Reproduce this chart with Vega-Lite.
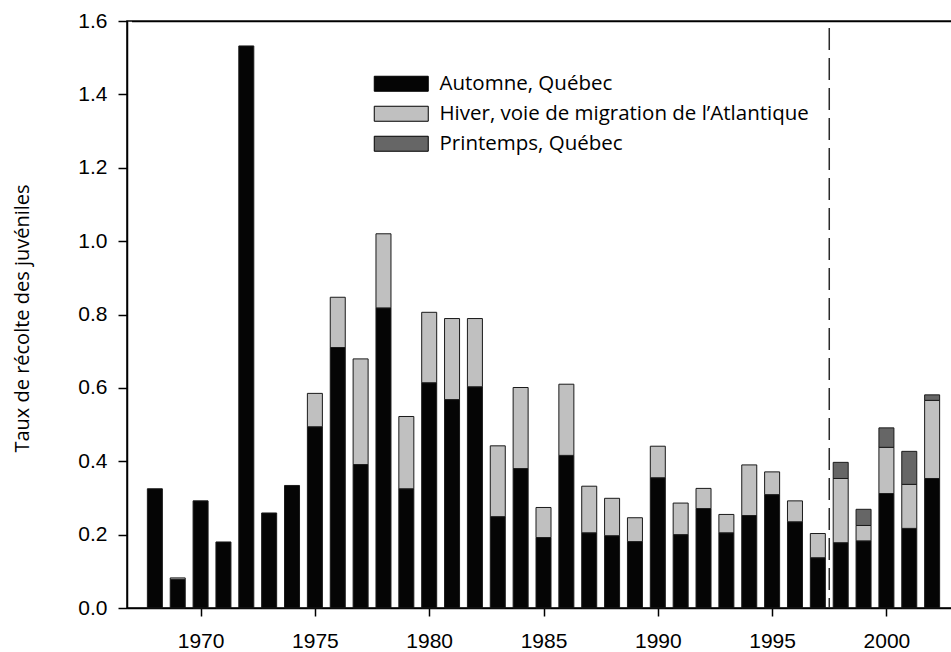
{
  "$schema": "https://vega.github.io/schema/vega-lite/v6.json",
  "autosize": {"type": "none"},
  "padding": {"left": 127, "top": 21, "right": 0, "bottom": 44},
  "width": 833,
  "height": 587,
  "background": "white",
  "config": {
    "view": {"stroke": "#000", "strokeWidth": 1.5},
    "axis": {"grid": false, "domainColor": "#000", "domainWidth": 1.5, "tickColor": "#000", "tickWidth": 1.5, "labelColor": "#000", "labelFont": "Liberation Sans", "labelFontSize": 21, "titleColor": "#000"}
  },
  "datasets": {
    "harvest": [
      {"year": 1968, "season": "Automne, Québec", "value": 0.325},
      {"year": 1969, "season": "Automne, Québec", "value": 0.078},
      {"year": 1969, "season": "Hiver, voie de migration de l’Atlantique", "value": 0.004},
      {"year": 1970, "season": "Automne, Québec", "value": 0.292},
      {"year": 1971, "season": "Automne, Québec", "value": 0.180},
      {"year": 1972, "season": "Automne, Québec", "value": 1.532},
      {"year": 1973, "season": "Automne, Québec", "value": 0.259},
      {"year": 1974, "season": "Automne, Québec", "value": 0.334},
      {"year": 1975, "season": "Automne, Québec", "value": 0.494},
      {"year": 1975, "season": "Hiver, voie de migration de l’Atlantique", "value": 0.091},
      {"year": 1976, "season": "Automne, Québec", "value": 0.710},
      {"year": 1976, "season": "Hiver, voie de migration de l’Atlantique", "value": 0.137},
      {"year": 1977, "season": "Automne, Québec", "value": 0.391},
      {"year": 1977, "season": "Hiver, voie de migration de l’Atlantique", "value": 0.288},
      {"year": 1978, "season": "Automne, Québec", "value": 0.818},
      {"year": 1978, "season": "Hiver, voie de migration de l’Atlantique", "value": 0.202},
      {"year": 1979, "season": "Automne, Québec", "value": 0.325},
      {"year": 1979, "season": "Hiver, voie de migration de l’Atlantique", "value": 0.197},
      {"year": 1980, "season": "Automne, Québec", "value": 0.614},
      {"year": 1980, "season": "Hiver, voie de migration de l’Atlantique", "value": 0.192},
      {"year": 1981, "season": "Automne, Québec", "value": 0.568},
      {"year": 1981, "season": "Hiver, voie de migration de l’Atlantique", "value": 0.221},
      {"year": 1982, "season": "Automne, Québec", "value": 0.603},
      {"year": 1982, "season": "Hiver, voie de migration de l’Atlantique", "value": 0.186},
      {"year": 1983, "season": "Automne, Québec", "value": 0.249},
      {"year": 1983, "season": "Hiver, voie de migration de l’Atlantique", "value": 0.193},
      {"year": 1984, "season": "Automne, Québec", "value": 0.380},
      {"year": 1984, "season": "Hiver, voie de migration de l’Atlantique", "value": 0.221},
      {"year": 1985, "season": "Automne, Québec", "value": 0.192},
      {"year": 1985, "season": "Hiver, voie de migration de l’Atlantique", "value": 0.082},
      {"year": 1986, "season": "Automne, Québec", "value": 0.416},
      {"year": 1986, "season": "Hiver, voie de migration de l’Atlantique", "value": 0.194},
      {"year": 1987, "season": "Automne, Québec", "value": 0.205},
      {"year": 1987, "season": "Hiver, voie de migration de l’Atlantique", "value": 0.127},
      {"year": 1988, "season": "Automne, Québec", "value": 0.197},
      {"year": 1988, "season": "Hiver, voie de migration de l’Atlantique", "value": 0.102},
      {"year": 1989, "season": "Automne, Québec", "value": 0.181},
      {"year": 1989, "season": "Hiver, voie de migration de l’Atlantique", "value": 0.065},
      {"year": 1990, "season": "Automne, Québec", "value": 0.355},
      {"year": 1990, "season": "Hiver, voie de migration de l’Atlantique", "value": 0.086},
      {"year": 1991, "season": "Automne, Québec", "value": 0.200},
      {"year": 1991, "season": "Hiver, voie de migration de l’Atlantique", "value": 0.086},
      {"year": 1992, "season": "Automne, Québec", "value": 0.271},
      {"year": 1992, "season": "Hiver, voie de migration de l’Atlantique", "value": 0.055},
      {"year": 1993, "season": "Automne, Québec", "value": 0.205},
      {"year": 1993, "season": "Hiver, voie de migration de l’Atlantique", "value": 0.050},
      {"year": 1994, "season": "Automne, Québec", "value": 0.252},
      {"year": 1994, "season": "Hiver, voie de migration de l’Atlantique", "value": 0.138},
      {"year": 1995, "season": "Automne, Québec", "value": 0.309},
      {"year": 1995, "season": "Hiver, voie de migration de l’Atlantique", "value": 0.062},
      {"year": 1996, "season": "Automne, Québec", "value": 0.235},
      {"year": 1996, "season": "Hiver, voie de migration de l’Atlantique", "value": 0.057},
      {"year": 1997, "season": "Automne, Québec", "value": 0.137},
      {"year": 1997, "season": "Hiver, voie de migration de l’Atlantique", "value": 0.066},
      {"year": 1998, "season": "Automne, Québec", "value": 0.178},
      {"year": 1998, "season": "Hiver, voie de migration de l’Atlantique", "value": 0.175},
      {"year": 1998, "season": "Printemps, Québec", "value": 0.044},
      {"year": 1999, "season": "Automne, Québec", "value": 0.183},
      {"year": 1999, "season": "Hiver, voie de migration de l’Atlantique", "value": 0.042},
      {"year": 1999, "season": "Printemps, Québec", "value": 0.044},
      {"year": 2000, "season": "Automne, Québec", "value": 0.312},
      {"year": 2000, "season": "Hiver, voie de migration de l’Atlantique", "value": 0.126},
      {"year": 2000, "season": "Printemps, Québec", "value": 0.053},
      {"year": 2001, "season": "Automne, Québec", "value": 0.217},
      {"year": 2001, "season": "Hiver, voie de migration de l’Atlantique", "value": 0.120},
      {"year": 2001, "season": "Printemps, Québec", "value": 0.090},
      {"year": 2002, "season": "Automne, Québec", "value": 0.353},
      {"year": 2002, "season": "Hiver, voie de migration de l’Atlantique", "value": 0.213},
      {"year": 2002, "season": "Printemps, Québec", "value": 0.015}
    ],
    "divider": [{"year": 1997.5}],
    "frame": [{"x0": 1967, "x1": 2003, "ylo": 1.5965, "yhi": 1.6}]
  },
  "layer": [
    {
      "data": {"name": "harvest"},
      "mark": {"type": "bar", "size": 15, "stroke": "#1a1a1a", "strokeWidth": 1},
      "encoding": {
        "x": {
          "field": "year", "type": "quantitative",
          "scale": {"domain": [1967, 2003], "nice": false, "zero": false},
          "axis": {"values": [1970, 1975, 1980, 1985, 1990, 1995, 2000], "format": "d", "title": null, "tickSize": 8, "labelPadding": 14}
        },
        "y": {
          "field": "value", "type": "quantitative", "aggregate": "sum", "stack": "zero",
          "scale": {"domain": [0, 1.6], "nice": false},
          "axis": {"values": [0, 0.2, 0.4, 0.6, 0.8, 1.0, 1.2, 1.4, 1.6], "format": ".1f", "tickSize": 9, "labelPadding": 11,
            "title": "Taux de récolte des juvéniles", "titleFont": "Open Sans", "titleFontSize": 20, "titleFontWeight": "normal",
            "titleX": -105, "titleY": 297, "titleAngle": -90, "titleAlign": "center", "titleBaseline": "middle"}
        },
        "order": {"field": "season", "sort": "ascending"},
        "color": {
          "field": "season", "type": "nominal",
          "scale": {"domain": ["Automne, Québec", "Hiver, voie de migration de l’Atlantique", "Printemps, Québec"], "range": ["#050505", "#c0c0c0", "#666666"]},
          "legend": {
            "title": null, "orient": "none", "legendX": 264, "legendY": 52.5, "padding": 0,
            "symbolType": "M-3.6,-1H3.6V1H-3.6Z", "symbolSize": 225, "symbolStrokeColor": "#000", "symbolStrokeWidth": 1, "symbolOpacity": 1,
            "labelFont": "Open Sans", "labelFontSize": 20.5, "labelColor": "#000", "labelOffset": 28, "rowPadding": 9, "labelLimit": 500
          }
        }
      }
    },
    {
      "data": {"name": "divider"},
      "mark": {"type": "rule", "stroke": "#2a2a2a", "strokeWidth": 1.5, "strokeDash": [22, 8], "strokeDashOffset": 23},
      "encoding": {"x": {"field": "year", "type": "quantitative"}}
    },
    {
      "data": {"name": "frame"},
      "mark": {"type": "rect", "fill": "#000", "stroke": null},
      "encoding": {
        "x": {"field": "x0", "type": "quantitative"},
        "x2": {"field": "x1"},
        "y": {"field": "yhi", "type": "quantitative"},
        "y2": {"field": "ylo"}
      }
    }
  ]
}
